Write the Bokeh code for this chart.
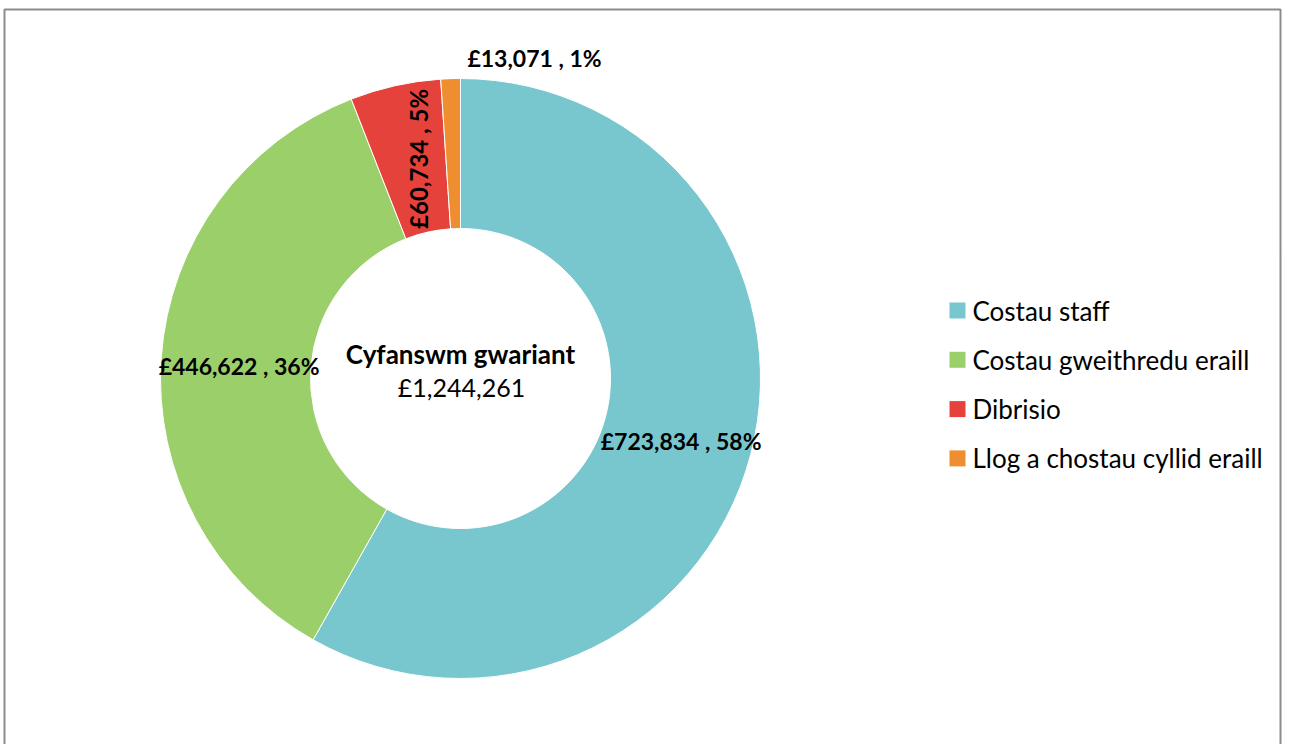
import math
from bokeh.plotting import figure
from bokeh.models import Range1d, ColumnDataSource
from bokeh.core.properties import value
from bokeh.embed import file_html
from bokeh.resources import INLINE

categories = ["Costau staff", "Costau gweithredu eraill", "Dibrisio", "Llog a chostau cyllid eraill"]
amounts = [723834, 446622, 60734, 13071]
colors = ["#79C7CE", "#9BCF6A", "#E6423C", "#EE8E31"]
center_title = "Cyfanswm gwariant"

W, H = 1282, 744
FONT = "Lato"

p = figure(width=W, height=H, x_range=Range1d(0, W), y_range=Range1d(0, H),
           output_backend="svg", toolbar_location=None, min_border=0)
p.axis.visible = False
p.grid.visible = False
p.outline_line_color = None
p.background_fill_color = "white"
p.border_fill_color = "white"

# chart border (frame box)
p.quad(left=[4], right=[W - 2], top=[H - 9], bottom=[-10], fill_color=None,
       line_color="#8C8C8C", line_width=2)

cx, cy = 460, H - 378
r_out, r_in = 300, 150

total = sum(amounts)
starts, ends, mids, pcts = [], [], [], []
a = math.pi / 2
for v in amounts:
    ext = v / total * 2 * math.pi
    starts.append(a)
    ends.append(a - ext)
    mids.append(a - ext / 2)
    pcts.append(round(v / total * 100))
    a -= ext

src = ColumnDataSource(dict(start=starts, end=ends, color=colors))
p.annular_wedge(x=cx, y=cy, inner_radius=r_in, outer_radius=r_out,
                start_angle="start", end_angle="end", direction="clock",
                fill_color="color", line_color="white", line_width=1, source=src)

labels = [f"£{v:,} , {pc}%" for v, pc in zip(amounts, pcts)]
r_lab = 225
offsets = [(3, -5), (3, -3), (7, 0)]
for i, (lab, m) in enumerate(zip(labels, mids)):
    size = "23px"
    if i < 3:
        lx = cx + r_lab * math.cos(m) + offsets[i][0]
        ly = cy + r_lab * math.sin(m) + offsets[i][1]
        ang = math.pi / 2 if i == 2 else 0
        if i == 2:
            size = "24px"
    else:
        lx = cx + 74
        ly = cy + 321
        ang = 0
    p.text(x=[lx], y=[ly], text=[lab], angle=ang, text_align="center",
           text_baseline="middle", text_font=value(FONT), text_font_style="bold",
           text_font_size=size, text_color="black")

p.text(x=[cx], y=[cy + 25], text=[center_title], text_align="center", text_baseline="middle",
       text_font=value(FONT), text_font_style="bold", text_font_size="26px", text_color="black")
p.text(x=[cx + 1], y=[cy - 8], text=[f"£{total:,}"], text_align="center", text_baseline="middle",
       text_font=value(FONT), text_font_size="25px", text_color="black")

# legend
lg_x, lg_y0, lg_dy = 957, H - 310, 49.3
for i, (c, name) in enumerate(zip(colors, categories)):
    y = lg_y0 - i * lg_dy
    p.scatter(x=[lg_x], y=[y], marker="square", size=16, fill_color=c, line_color=None)
    p.text(x=[lg_x + 15], y=[y], text=[name], text_align="left", text_baseline="middle",
           text_font=value(FONT), text_font_size="26px", text_color="black")

open("out.html", "w").write(file_html(p, INLINE))
